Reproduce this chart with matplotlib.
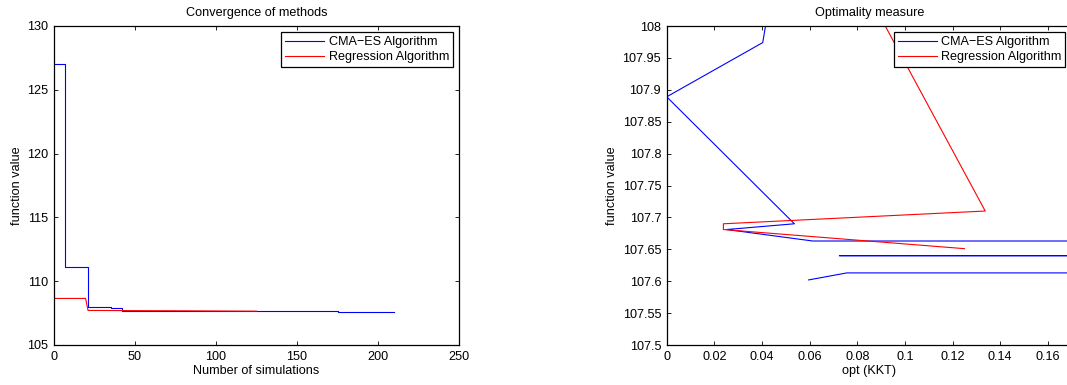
import numpy as np
import matplotlib
matplotlib.use("Agg")
import matplotlib.pyplot as plt
from matplotlib.ticker import FuncFormatter

################### DATA

# left panel : best function value vs number of simulations
cma_sims = [0, 7, 21, 35, 42, 55, 90, 140, 175, 210]
cma_fval = [127.0, 111.1, 107.97, 107.89, 107.69, 107.68, 107.66, 107.64, 107.61, 107.60]

reg_sims = [0, 19.5, 21, 56, 80, 125]
reg_fval = [108.65, 108.65, 107.71, 107.69, 107.68, 107.65]

# right panel : function value vs optimality measure (KKT)
cma_opt = [0.046, 0.0403, 0.0, 0.0536, 0.0252, 0.0613, 0.40, 0.40, 0.0725, 0.50, 0.50, 0.0756, 0.0596]
cma_f = [108.1, 107.974, 107.889, 107.690, 107.681, 107.663, 107.663, 107.640, 107.640, 107.640, 107.613, 107.613, 107.602]

reg_opt = [0.0845, 0.1337, 0.0238, 0.0238, 0.125]
reg_f = [108.05, 107.710, 107.690, 107.681, 107.651]

labels = ["CMA\u2212ES Algorithm", "Regression Algorithm"]

################### STYLE

plt.rcParams['font.family'] = ['Liberation Sans', 'DejaVu Sans']
fs = 9.1
plt.rcParams['font.size'] = fs

W, H = 1067, 385
fig = plt.figure(figsize=(W / 100, H / 100), dpi=100)

def style_axes(ax):
    ax.tick_params(direction='in', top=True, right=True, length=3, width=0.6,
                   labelsize=fs, pad=4)
    for s in ax.spines.values():
        s.set_linewidth(0.9)

def add_legend(ax):
    leg = ax.legend(labels, loc='upper right', fontsize=fs, fancybox=False,
                    edgecolor='black', framealpha=1, handlelength=3.1,
                    handletextpad=0.35, labelspacing=0.25, borderpad=0.3,
                    borderaxespad=0.5)
    leg.get_frame().set_linewidth(0.9)

################### Convergence of methods

ax1 = fig.add_axes([54 / W, (H - 345) / H, 405 / W, 319 / H])
ax1.plot(cma_sims, cma_fval, color='blue', lw=0.8, drawstyle='steps-post')
ax1.plot(reg_sims, reg_fval, color='red', lw=0.8)
ax1.set_xlim(0, 250)
ax1.set_ylim(105, 130)
ax1.set_xticks(np.arange(0, 251, 50))
ax1.set_yticks(np.arange(105, 131, 5))
ax1.set_title("Convergence of methods", fontsize=fs, pad=7)
ax1.set_xlabel("Number of simulations", fontsize=fs, labelpad=2)
ax1.set_ylabel("function value", fontsize=fs, labelpad=3)
style_axes(ax1)
add_legend(ax1)

################### Optimality measure

ax2 = fig.add_axes([666.7 / W, (H - 345) / H, 405 / W, 319 / H])
ax2.plot(cma_opt, cma_f, color='blue', lw=0.8)
ax2.plot(reg_opt, reg_f, color='red', lw=0.8)
ax2.set_xlim(0, 0.17)
ax2.set_ylim(107.5, 108)
ax2.set_xticks(np.arange(0, 0.161, 0.02))
ax2.set_yticks(np.arange(107.5, 108.001, 0.05))
ax2.xaxis.set_major_formatter(FuncFormatter(lambda v, p: '%g' % round(v, 4)))
ax2.yaxis.set_major_formatter(FuncFormatter(lambda v, p: '%g' % round(v, 4)))
ax2.set_title("Optimality measure", fontsize=fs, pad=7)
ax2.set_xlabel("opt (KKT)", fontsize=fs, labelpad=2)
ax2.set_ylabel("function value", fontsize=fs, labelpad=3)
style_axes(ax2)
add_legend(ax2)

fig.savefig("out.png", dpi=100)
